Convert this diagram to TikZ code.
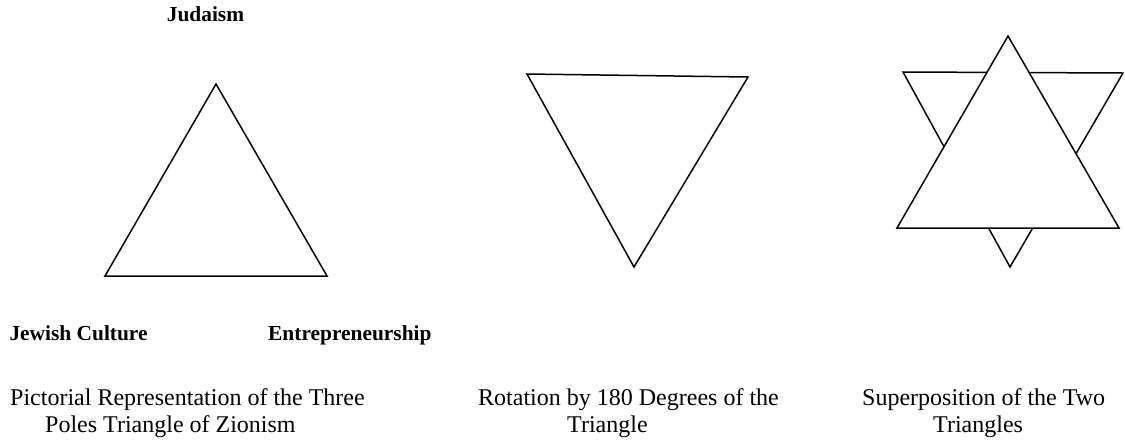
\documentclass[tikz,border=0pt]{standalone}
\usepackage{fontspec}
\setmainfont{Liberation Serif}
\begin{document}
\begin{tikzpicture}[x=1pt,y=-1pt,
  tri/.style={draw=black,line width=1.5pt,line join=miter},
  pole/.style={inner sep=0pt,font=\fontsize{21.4}{25}\selectfont\bfseries},
  caption/.style={inner sep=0pt,anchor=base west,align=left,font=\fontsize{24}{27}\selectfont}]
\useasboundingbox[fill=white] (0,0) rectangle (1125,440);
% first triangle
\coordinate (a1) at (216,84);
\coordinate (b1) at (105,276);
\coordinate (c1) at (327,276);
\draw[tri] (a1) -- (b1) -- (c1) -- cycle;
\node[pole,anchor=base] (jud) at (205.5,21.5) {Judaism};
\node[pole,anchor=base west] (jc) at (9.3,340.5) {Jewish Culture};
\node[pole,anchor=base west] (ent) at (268,340.5) {Entrepreneurship};
% rotated triangle
\coordinate (a2) at (527,74);
\coordinate (b2) at (748,77);
\coordinate (c2) at (634,267);
\draw[tri] (a2) -- (b2) -- (c2) -- cycle;
% superposition
\coordinate (a3) at (903,72);
\coordinate (b3) at (1123,73);
\coordinate (c3) at (1010,267);
\draw[tri] (a3) -- (b3) -- (c3) -- cycle;
\coordinate (a4) at (1008,36);
\coordinate (b4) at (897,228);
\coordinate (c4) at (1119,228);
\draw[tri,fill=white] (a4) -- (b4) -- (c4) -- cycle;
% captions (base anchor = baseline of the last line)
\node[caption] (cap1) at (10,432) {Pictorial Representation of the Three\\\hspace*{35pt}Poles Triangle of Zionism};
\node[caption] (cap2) at (478,432) {Rotation by 180 Degrees of the\\\hspace*{89pt}Triangle};
\node[caption] (cap3) at (862,432) {Superposition of the Two\\\hspace*{71pt}Triangles};
\end{tikzpicture}
\end{document}
